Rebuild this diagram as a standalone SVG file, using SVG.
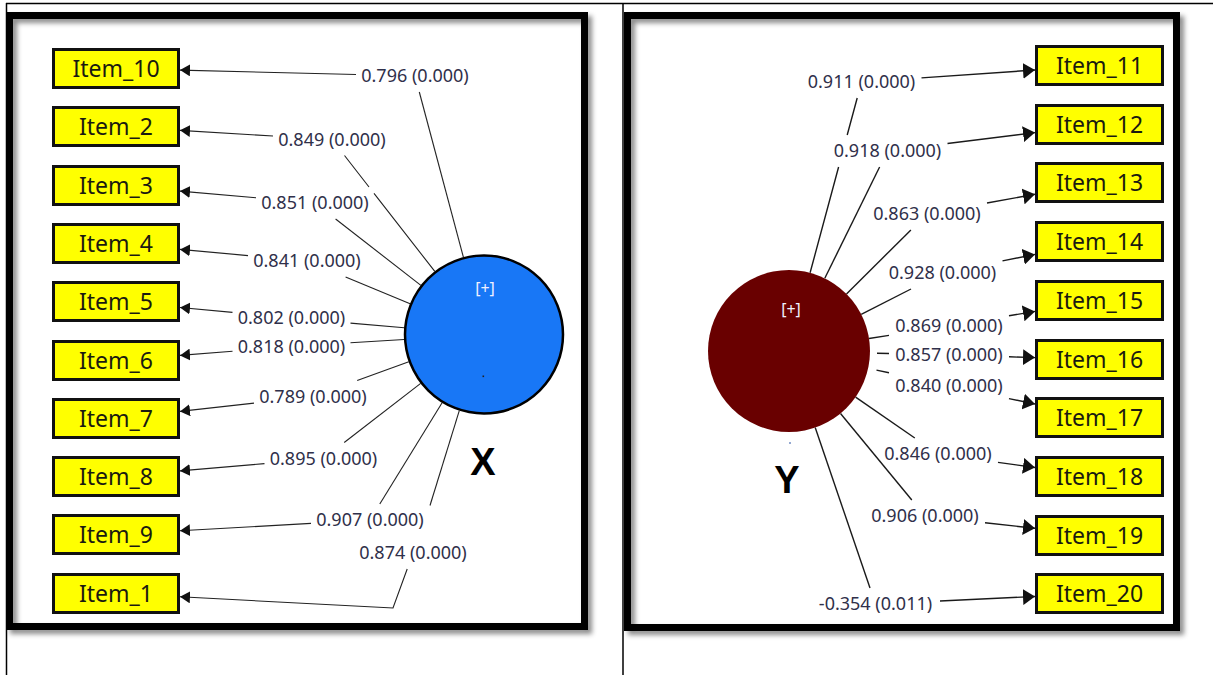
<svg xmlns="http://www.w3.org/2000/svg" width="1213" height="675" viewBox="0 0 1213 675">
<style>
.frame{fill:none;stroke:#000;stroke-width:7}
.thin{stroke:#000;stroke-width:1.5;fill:none}
.box{fill:#ffff00;stroke:#111;stroke-width:3}
.bt{font-family:"Noto Sans","Open Sans",sans-serif;font-size:23px;fill:#1a1a10;text-anchor:middle}
.lb{font-family:"Noto Sans","Open Sans",sans-serif;font-size:18px;fill:#30304a;text-anchor:middle}
.cl{fill:none;stroke:#222;stroke-width:1.1}
.cr{fill:none;stroke:#1a1a1a;stroke-width:1.4}
.al{marker-end:url(#aL)}
.ar{marker-end:url(#aR)}
.plus{font-family:"Noto Sans","Open Sans",sans-serif;font-size:16px;fill:#f0f0ff;text-anchor:middle}
.lv{font-family:"Liberation Sans",Arial,sans-serif;font-weight:bold;font-size:38px;fill:#000;text-anchor:middle}
</style>
<defs>
<marker id="aL" viewBox="0 0 10 12" refX="10" refY="6" markerWidth="10" markerHeight="12" orient="auto" markerUnits="userSpaceOnUse"><path d="M0,0 L10,6 L0,12 Z" fill="#111"/></marker>
<marker id="aR" viewBox="0 0 12 16" refX="12" refY="8" markerWidth="12" markerHeight="16" orient="auto" markerUnits="userSpaceOnUse"><path d="M0,0 L12,8 L0,16 Z" fill="#111"/></marker>
<filter id="sh" x="-5%" y="-5%" width="112%" height="112%"><feDropShadow dx="4" dy="4" stdDeviation="2.5" flood-color="#000" flood-opacity="0.45"/></filter>
</defs>
<rect width="1213" height="675" fill="#fff"/>
<g id="table">
<line class="thin" x1="6" y1="3.5" x2="1213" y2="3.5"/>
<line class="thin" x1="6.5" y1="3" x2="6.5" y2="675"/>
<line class="thin" x1="623" y1="3" x2="623" y2="675"/>
</g>
<g id="frames">
<rect class="frame" x="9.5" y="15.5" width="575" height="611" filter="url(#sh)"/>
<rect class="frame" x="627.5" y="15.5" width="549" height="612" filter="url(#sh)"/>
</g>
<g id="connectors">
<!-- left -->
<path class="cl" d="M463.4,257.2 L419.3,92"/>
<path class="cl al" d="M356,74.5 L180,70.1"/>
<path class="cl" d="M434.8,271.4 L374,193.4 M369,187 L344.5,155.5"/>
<path class="cl al" d="M273,136 L180,130.35"/>
<path class="cl" d="M420.9,285.4 L335.6,219"/>
<path class="cl al" d="M256,197.8 L180,191.1"/>
<path class="cl" d="M410.1,303.8 L345.6,277"/>
<path class="cl al" d="M248,255.6 L180,249.4"/>
<path class="cl" d="M404.3,327.7 L350.5,323.1"/>
<path class="cl al" d="M232.5,312.4 L180,307.5"/>
<path class="cl" d="M404.2,339.5 L350.5,342.8"/>
<path class="cl al" d="M232.5,351.2 L180,355.4"/>
<path class="cl" d="M408.8,361.8 L357.2,380.5"/>
<path class="cl al" d="M254,403.1 L180,411.4"/>
<path class="cl" d="M420.7,383.4 L344.2,442.5"/>
<path class="cl al" d="M264.5,463.6 L180,470.9"/>
<path class="cl" d="M442.1,402.7 L379.8,504"/>
<path class="cl al" d="M311,523.4 L180,530.8"/>
<path class="cl" d="M459.3,410.6 L430,505.5"/>
<path class="cl al" d="M407.2,569 L393,608 L180,596.8"/>
<!-- right -->
<path class="cr" d="M810.1,272.8 L838.6,167 M847.2,135 L857.2,98"/>
<path class="cr ar" d="M921.5,77.85 L1035,70"/>
<path class="cr" d="M824.8,278.3 L879.6,167"/>
<path class="cr ar" d="M947.5,143.5 L1035,132.6"/>
<path class="cr" d="M846.5,293.9 L910.9,230"/>
<path class="cr ar" d="M987,203.05 L1035,194.3"/>
<path class="cr" d="M861.2,314.3 L911,289"/>
<path class="cr ar" d="M1002.5,260.9 L1035,254.4"/>
<path class="cr" d="M869,338.5 L889,335.4"/>
<path class="cr ar" d="M1009,315.8 L1035,311.4"/>
<path class="cr" d="M877,353.2 L889,353.5"/>
<path class="cr ar" d="M1009,356.8 L1035,357.6"/>
<path class="cr" d="M876.5,370.1 L889,372.8"/>
<path class="cr ar" d="M1009,398.6 L1035,404"/>
<path class="cr" d="M855.6,397.1 L914.8,438"/>
<path class="cr ar" d="M998,462.35 L1035,467.5"/>
<path class="cr" d="M840.5,413.5 L911.8,500"/>
<path class="cr ar" d="M985,522.7 L1035,528.3"/>
<path class="cr" d="M815.2,427.6 L870,588"/>
<path class="cr ar" d="M940,601 L1035,596.5"/>
</g>
<g id="labels">
<text class="lb" x="415" y="82">0.796 (0.000)</text>
<text class="lb" x="332" y="145.5">0.849 (0.000)</text>
<text class="lb" x="315" y="209">0.851 (0.000)</text>
<text class="lb" x="307" y="267">0.841 (0.000)</text>
<text class="lb" x="291.5" y="324">0.802 (0.000)</text>
<text class="lb" x="291.5" y="352.5">0.818 (0.000)</text>
<text class="lb" x="313" y="402.5">0.789 (0.000)</text>
<text class="lb" x="323.5" y="464.5">0.895 (0.000)</text>
<text class="lb" x="370" y="526">0.907 (0.000)</text>
<text class="lb" x="413" y="559">0.874 (0.000)</text>
<text class="lb" x="861.5" y="88">0.911 (0.000)</text>
<text class="lb" x="887.5" y="157">0.918 (0.000)</text>
<text class="lb" x="927" y="220">0.863 (0.000)</text>
<text class="lb" x="942.5" y="279">0.928 (0.000)</text>
<text class="lb" x="949" y="332">0.869 (0.000)</text>
<text class="lb" x="949" y="361">0.857 (0.000)</text>
<text class="lb" x="949" y="392">0.840 (0.000)</text>
<text class="lb" x="938" y="460">0.846 (0.000)</text>
<text class="lb" x="925" y="522">0.906 (0.000)</text>
<text class="lb" x="875.5" y="610">-0.354 (0.011)</text>
</g>
<g id="X">
<circle cx="484" cy="334.5" r="79" fill="#1877f6" stroke="#000" stroke-width="2.5"/>
<text class="plus" x="485" y="294">[+]</text>
<rect x="482.5" y="375.5" width="1.6" height="1.6" fill="#222"/>
<text class="lv" x="483" y="475">X</text>
</g>
<g id="Y">
<circle cx="789" cy="351" r="81" fill="#690000"/>
<text class="plus" x="791" y="315">[+]</text>
<rect x="789.2" y="442.2" width="1.6" height="1.6" fill="#5a7ab8"/>
<text class="lv" x="787" y="493">Y</text>
</g>
<g id="Item_10"><rect class="box" x="53.5" y="49.5" width="125" height="38"/><text class="bt" x="116" y="77">Item_10</text></g>
<g id="Item_2"><rect class="box" x="53.5" y="107.5" width="125" height="38"/><text class="bt" x="116" y="135">Item_2</text></g>
<g id="Item_3"><rect class="box" x="53.5" y="166.5" width="125" height="38"/><text class="bt" x="116" y="194">Item_3</text></g>
<g id="Item_4"><rect class="box" x="53.5" y="224.5" width="125" height="38"/><text class="bt" x="116" y="252">Item_4</text></g>
<g id="Item_5"><rect class="box" x="53.5" y="282.5" width="125" height="38"/><text class="bt" x="116" y="310">Item_5</text></g>
<g id="Item_6"><rect class="box" x="53.5" y="341.5" width="125" height="38"/><text class="bt" x="116" y="369">Item_6</text></g>
<g id="Item_7"><rect class="box" x="53.5" y="399.5" width="125" height="38"/><text class="bt" x="116" y="427">Item_7</text></g>
<g id="Item_8"><rect class="box" x="53.5" y="457.5" width="125" height="38"/><text class="bt" x="116" y="485">Item_8</text></g>
<g id="Item_9"><rect class="box" x="53.5" y="515.5" width="125" height="38"/><text class="bt" x="116" y="543">Item_9</text></g>
<g id="Item_1"><rect class="box" x="53.5" y="574.5" width="125" height="38"/><text class="bt" x="116" y="602">Item_1</text></g>
<g id="Item_11"><rect class="box" x="1036.5" y="46.5" width="126" height="38"/><text class="bt" x="1099.5" y="74">Item_11</text></g>
<g id="Item_12"><rect class="box" x="1036.5" y="105.5" width="126" height="38"/><text class="bt" x="1099.5" y="133">Item_12</text></g>
<g id="Item_13"><rect class="box" x="1036.5" y="163.5" width="126" height="38"/><text class="bt" x="1099.5" y="191">Item_13</text></g>
<g id="Item_14"><rect class="box" x="1036.5" y="222.5" width="126" height="38"/><text class="bt" x="1099.5" y="250">Item_14</text></g>
<g id="Item_15"><rect class="box" x="1036.5" y="281.5" width="126" height="38"/><text class="bt" x="1099.5" y="309">Item_15</text></g>
<g id="Item_16"><rect class="box" x="1036.5" y="340.5" width="126" height="38"/><text class="bt" x="1099.5" y="368">Item_16</text></g>
<g id="Item_17"><rect class="box" x="1036.5" y="398.5" width="126" height="38"/><text class="bt" x="1099.5" y="426">Item_17</text></g>
<g id="Item_18"><rect class="box" x="1036.5" y="457.5" width="126" height="38"/><text class="bt" x="1099.5" y="485">Item_18</text></g>
<g id="Item_19"><rect class="box" x="1036.5" y="516.5" width="126" height="38"/><text class="bt" x="1099.5" y="544">Item_19</text></g>
<g id="Item_20"><rect class="box" x="1036.5" y="574.5" width="126" height="38"/><text class="bt" x="1099.5" y="602">Item_20</text></g>
</svg>
